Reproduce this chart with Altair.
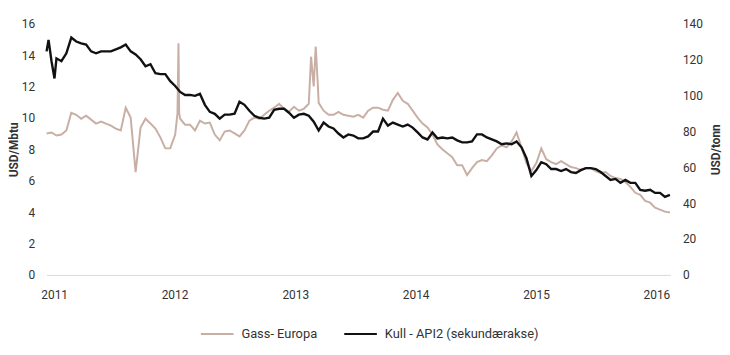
import altair as alt
import pandas as pd

# --- data (15-day grid starting 2010-12-09) ---
grid_start = "2010-12-09"
grid_step_days = 15

coal_usd_tonn = [
    124.6, 119.1, 120.7, 119.1, 123.5, 132.3, 130.1, 129.0, 128.4, 124.6,
    123.5, 124.6, 124.6, 124.6, 125.7, 126.8, 128.4, 124.6, 122.9, 120.2,
    116.3, 117.4, 112.4, 111.9, 111.9, 108.0, 105.3, 102.0, 100.3, 100.3,
    99.8, 100.9, 94.8, 90.9, 89.8, 87.1, 89.3, 89.3, 89.8, 96.5,
    94.8, 91.5, 88.7, 87.6, 87.1, 87.6, 92.0, 92.6, 92.6, 90.4,
    87.6, 89.3, 89.8, 88.7, 85.4, 80.5, 84.9, 82.7, 81.6, 78.8,
    76.6, 78.3, 77.7, 76.1, 76.1, 77.2, 79.9, 79.9, 87.1, 83.2,
    84.9, 83.8, 82.7, 83.8, 82.1, 79.4, 76.6, 75.5, 79.4, 76.1,
    76.6, 76.1, 76.6, 75.0, 73.9, 73.9, 74.4, 78.3, 78.3, 76.6,
    75.5, 74.4, 72.8, 73.3, 72.8, 74.4, 71.1, 65.0, 55.1, 58.4,
    62.8, 61.7, 59.0, 59.0, 57.9, 59.0, 57.3, 56.8, 58.4, 59.5,
    59.5, 59.0, 57.3, 55.1, 52.9, 53.5, 51.3, 52.9, 51.3, 51.3,
    47.4, 46.9, 47.4, 45.7, 45.7, 43.5, 44.6,
]
coal_extra_dates = ["2010-12-15", "2011-01-02"]
coal_extra_values = [131.0, 109.5]

gas_usd_mbtu = [
    9.01, 9.07, 8.88, 8.94, 9.20, 10.33, 10.20, 9.95, 10.14, 9.89,
    9.64, 9.76, 9.64, 9.51, 9.32, 9.20, 10.65, 10.02, 6.55, 9.39,
    9.95, 9.64, 9.32, 8.76, 8.06, 8.06, 8.94, 9.95, 9.57, 9.57,
    9.20, 9.83, 9.64, 9.70, 8.94, 8.57, 9.13, 9.20, 9.01, 8.82,
    9.20, 9.83, 10.02, 9.95, 10.20, 10.46, 10.65, 10.90, 10.58, 10.39,
    10.71, 10.46, 10.58, 10.90, 12.00, 10.96, 10.46, 10.20, 10.20, 10.39,
    10.20, 10.14, 10.08, 10.20, 10.02, 10.46, 10.65, 10.65, 10.52, 10.46,
    11.15, 11.59, 11.09, 10.90, 10.46, 10.02, 9.64, 9.39, 8.94, 8.31,
    8.00, 7.75, 7.50, 6.99, 6.99, 6.36, 6.80, 7.18, 7.31, 7.24,
    7.62, 8.06, 8.25, 8.13, 8.50, 9.07, 8.13, 7.12, 6.61, 7.12,
    8.06, 7.37, 7.18, 7.06, 7.24, 7.06, 6.87, 6.80, 6.68, 6.80,
    6.80, 6.61, 6.49, 6.55, 6.30, 6.17, 6.11, 5.92, 5.61, 5.23,
    5.10, 4.72, 4.60, 4.28, 4.16, 4.03, 3.97,
]
gas_extra_dates = ["2012-01-10", "2012-01-13", "2012-01-15",
                   "2013-02-18", "2013-03-04", "2013-03-10"]
gas_extra_values = [10.3, 14.75, 10.3, 13.9, 14.55, 12.3]

series_names = ["Gass- Europa", "Kull - API2 (sekundærakse)"]
series_colors = ["#c8afa5", "#111111"]
left_ticks = [0, 2, 4, 6, 8, 10, 12, 14, 16]
right_ticks = [0, 20, 40, 60, 80, 100, 120, 140]
year_ticks = [2011, 2012, 2013, 2014, 2015, 2016]

grid = pd.date_range(start=grid_start, periods=len(gas_usd_mbtu), freq=f"{grid_step_days}D")

gas_df = pd.DataFrame({
    "date": list(grid) + list(pd.to_datetime(gas_extra_dates)),
    "value": gas_usd_mbtu + gas_extra_values,
}).sort_values("date")
gas_df["series"] = series_names[0]

coal_df = pd.DataFrame({
    "date": list(grid) + list(pd.to_datetime(coal_extra_dates)),
    "value": coal_usd_tonn + coal_extra_values,
}).sort_values("date")
coal_df["series"] = series_names[1]

FONT = "Roboto"
TXT = "#333333"

x_enc = alt.X(
    "date:T",
    scale=alt.Scale(domain=[alt.DateTime(year=2010, month=12, date=9),
                            alt.DateTime(year=2016, month=2, date=13)]),
    axis=alt.Axis(
        title=None, format="%Y", grid=False, ticks=False,
        values=[alt.DateTime(year=y, month=1, date=1) for y in year_ticks],
        domain=True, domainColor="#d9d9d9", domainWidth=1,
        labelPadding=15, labelFontSize=12,
    ),
)

color_enc = alt.Color(
    "series:N",
    scale=alt.Scale(domain=series_names, range=series_colors),
    legend=alt.Legend(
        title=None, orient="none", direction="horizontal",
        legendX=155, legendY=296, padding=0,
        symbolType="stroke", symbolSize=1089, symbolStrokeWidth=2,
        labelOffset=7, columnPadding=23, labelFontSize=13,
        labelFont=FONT, labelColor=TXT,
    ),
)

gas_line = alt.Chart(gas_df).mark_line(strokeWidth=2).encode(
    x=x_enc,
    y=alt.Y(
        "value:Q",
        scale=alt.Scale(domain=[0, 16], nice=False),
        axis=alt.Axis(
            title="USD/Mbtu", orient="left", values=left_ticks,
            grid=False, ticks=False, domain=False, labelPadding=12,
            titleX=-33, titleBaseline="middle", titleAngle=270,
        ),
    ),
    color=color_enc,
)

coal_line = alt.Chart(coal_df).mark_line(strokeWidth=2.4).encode(
    x=x_enc,
    y=alt.Y(
        "value:Q",
        scale=alt.Scale(domain=[0, 140], nice=False),
        axis=alt.Axis(
            title="USD/tonn", orient="right", values=right_ticks,
            grid=False, ticks=False, domain=False, labelPadding=12,
            titleX=45, titleBaseline="middle", titleAngle=270,
        ),
    ),
    color=color_enc,
)

chart = (
    alt.layer(gas_line, coal_line)
    .resolve_scale(y="independent")
    .properties(
        width=631, height=254,
        padding={"left": 39, "top": 14, "right": 52, "bottom": 70},
        autosize=alt.AutoSizeParams(type="none"),
        background="white",
    )
    .configure_view(stroke=None)
    .configure_axis(
        labelFont=FONT, labelFontSize=12, labelColor=TXT,
        titleFont=FONT, titleFontSize=12, titleFontWeight="bold", titleColor=TXT,
    )
)

chart.save("out.html", embed_options={"renderer": "svg", "actions": False})
